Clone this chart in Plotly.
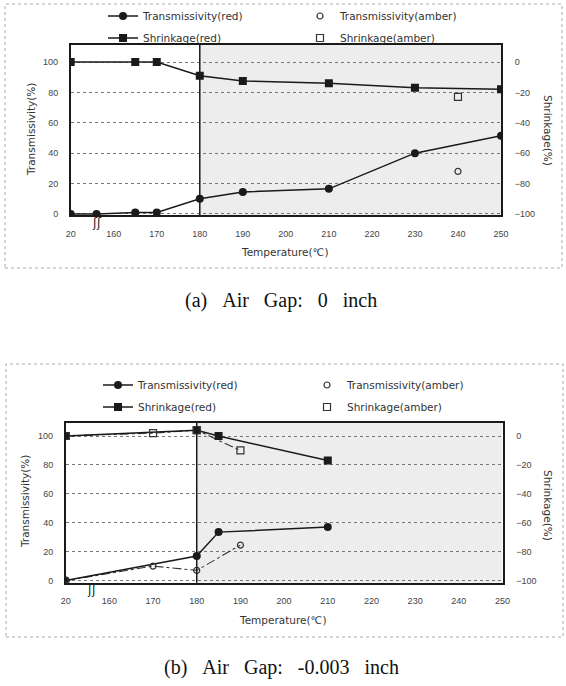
import plotly.graph_objects as go

# ---------------- data ----------------
ROOM_TEMP = 20            # plotted at the axis break
BREAK_AXIS_POS = 150
AXIS_MAX = 250
SHADE_START = 180
TICK_TEMPS = [20, 160, 170, 180, 190, 200, 210, 220, 230, 240, 250]
TRANS_TICKS = [0, 20, 40, 60, 80, 100]
SHRINK_TICKS = [-100, -80, -60, -40, -20, 0]

# (a) Air gap 0 inch
A_T_RED_TEMP = [20, 156, 165, 170, 180, 190, 210, 230, 250]
A_T_RED = [0, 0, 1, 1, 10, 14.5, 16.5, 40, 51.5]
A_S_RED_TEMP = [20, 165, 170, 180, 190, 210, 230, 250]
A_S_RED = [0, 0, 0, -9, -12.5, -14, -17, -18]
A_AMBER_TEMP = [240]
A_T_AMBER = [28]
A_S_AMBER = [-23]

# (b) Air gap -0.003 inch
B_RED_TEMP = [20, 180, 185, 210]
B_T_RED = [0, 17, 33.5, 37]
B_S_RED = [0, 4, 0, -17]
B_AMBER_TEMP = [20, 170, 180, 190]
B_T_AMBER = [0, 10, 7, 24.5]
B_S_AMBER = [0, 2, 4, -10]

NAMES = ["Transmissivity(red)", "Transmissivity(amber)", "Shrinkage(red)", "Shrinkage(amber)"]
SP = "\u2002\u2005"
CAPTIONS = ["(a)" + SP + "Air" + SP + "Gap:" + SP + "0" + SP + "inch",
            "(b)" + SP + "Air" + SP + "Gap:" + SP + "-0.003" + SP + "inch"]


def pos(temps):
    return [BREAK_AXIS_POS if t == ROOM_TEMP else t for t in temps]


W, H = 566, 686
SANS = "DejaVu Sans"
TXT = "#333333"
INK = "#1a1a1a"

fig = go.Figure()


def red_line(x, y, sym, name, xa, ya, legend, show=True):
    fig.add_trace(go.Scatter(
        x=pos(x), y=y, mode="lines+markers", name=name, xaxis=xa, yaxis=ya,
        legend=legend, showlegend=show,
        line=dict(color=INK, width=1.5),
        marker=dict(symbol=sym, size=8, color=INK)))


def amber_pts(x, y, sym, name, xa, ya, legend, size):
    fig.add_trace(go.Scatter(
        x=pos(x), y=y, mode="markers", name=name, xaxis=xa, yaxis=ya,
        legend=legend,
        marker=dict(symbol=sym, size=size, color="#333",
                    line=dict(color="#333", width=1.2))))


def amber_line(x, y, xa, ya):
    fig.add_trace(go.Scatter(
        x=pos(x), y=y, mode="lines", xaxis=xa, yaxis=ya, showlegend=False,
        line=dict(color="#333", width=1.1, dash="dashdot"), hoverinfo="skip"))


# panel (a)
red_line(A_T_RED_TEMP, A_T_RED, "circle", NAMES[0], "x", "y", "legend")
amber_pts(A_AMBER_TEMP, A_T_AMBER, "circle-open", NAMES[1], "x", "y", "legend", 6)
red_line(A_S_RED_TEMP, A_S_RED, "square", NAMES[2], "x", "y2", "legend2")
amber_pts(A_AMBER_TEMP, A_S_AMBER, "square-open", NAMES[3], "x", "y2", "legend2", 7)

# panel (b)
amber_line(B_AMBER_TEMP, B_T_AMBER, "x2", "y3")
amber_line(B_AMBER_TEMP, B_S_AMBER, "x2", "y4")
red_line(B_RED_TEMP, B_T_RED, "circle", NAMES[0], "x2", "y3", "legend3")
amber_pts(B_AMBER_TEMP, B_T_AMBER, "circle-open", NAMES[1], "x2", "y3", "legend3", 6)
red_line(B_RED_TEMP, B_S_RED, "square", NAMES[2], "x2", "y4", "legend4")
amber_pts(B_AMBER_TEMP, B_S_AMBER, "square-open", NAMES[3], "x2", "y4", "legend4", 7)

# ---------------- axes ----------------
tickfont = dict(family="Liberation Sans", size=9, color="#444")
common_x = dict(range=[BREAK_AXIS_POS, AXIS_MAX], tickvals=pos(TICK_TEMPS),
                ticktext=[str(t) for t in TICK_TEMPS], tickfont=tickfont,
                ticks="outside", ticklen=9, tickcolor="rgba(0,0,0,0)",
                showgrid=False, zeroline=False, showline=True, mirror=True,
                linecolor=INK, linewidth=1.5, automargin=False)
left_y = dict(tickvals=TRANS_TICKS, tickfont=tickfont, ticks="outside", ticklen=9,
              tickcolor="rgba(0,0,0,0)", showgrid=True, gridcolor="#777",
              griddash="dot", gridwidth=1, zeroline=False, showline=True,
              mirror=True, linecolor=INK, linewidth=1.5, automargin=False)
right_y = dict(tickvals=SHRINK_TICKS, tickfont=tickfont, ticks="outside", ticklen=11,
               tickcolor="rgba(0,0,0,0)", showgrid=False, zeroline=False,
               side="right", showline=False, automargin=False)

A_LEFT = [-0.7, 111.2]
B_LEFT = [-1.5, 109.2]
A_DOM_Y = [1 - 215 / H, 1 - 45 / H]
B_DOM_Y = [1 - 582.7 / H, 1 - 422.7 / H]

fig.update_layout(
    xaxis=dict(common_x, domain=[70.7 / W, 501 / W], anchor="y"),
    yaxis=dict(left_y, domain=A_DOM_Y, range=A_LEFT, anchor="x"),
    yaxis2=dict(right_y, overlaying="y", range=[A_LEFT[0] - 100, A_LEFT[1] - 100], anchor="x"),
    xaxis2=dict(common_x, domain=[65.7 / W, 502.5 / W], anchor="y3"),
    yaxis3=dict(left_y, domain=B_DOM_Y, range=B_LEFT, anchor="x2"),
    yaxis4=dict(right_y, overlaying="y3", range=[B_LEFT[0] - 100, B_LEFT[1] - 100], anchor="x2"),
)

# shaded region + boundary line
for xa, ya in (("x", "y"), ("x2", "y3")):
    fig.add_shape(type="rect", xref=xa, yref=f"{ya} domain", x0=SHADE_START, x1=AXIS_MAX,
                  y0=0, y1=1, fillcolor="rgba(0,0,0,0.07)", line_width=0, layer="below")
    fig.add_shape(type="line", xref=xa, yref=f"{ya} domain", x0=SHADE_START, x1=SHADE_START,
                  y0=0, y1=1, line=dict(color=INK, width=1.5))

# outer dotted frames
for (x0, y0, x1, y1) in ((5, 4, 562, 268), (6, 364, 563, 637)):
    fig.add_shape(type="rect", xref="paper", yref="paper", x0=x0 / W, x1=x1 / W,
                  y0=1 - y1 / H, y1=1 - y0 / H, line=dict(color="#aaa", width=1, dash="dot"))

# ---------------- legends ----------------
leg_font = dict(family=SANS, size=10.5, color=TXT)
def legend_at(xpx, ypx, ew):
    return dict(orientation="h", x=xpx / W, y=1 - ypx / H, xanchor="left", yanchor="middle",
                font=leg_font, bgcolor="rgba(0,0,0,0)", entrywidth=ew,
                entrywidthmode="pixels", itemwidth=30)

fig.update_layout(
    legend=legend_at(103, 16, 152), legend2=legend_at(103, 38, 152),
    legend3=legend_at(98, 385, 164), legend4=legend_at(98, 407, 164),
)

# ---------------- texts ----------------
title_font = dict(family=SANS, size=10.5, color=TXT)
ann = []
panels = [
    dict(xt=285, yt=252, lx=31, ly=130, rx=548, ry=130, cy=300, cap=CAPTIONS[0], brk_x="x", brk_y="y"),
    dict(xt=283, yt=620, lx=25, ly=502, rx=548, ry=505, cy=667, cap=CAPTIONS[1], brk_x="x2", brk_y="y3"),
]
for p in panels:
    ann.append(dict(text="Temperature(\u2103)", x=p["xt"] / W, y=1 - p["yt"] / H, xref="paper",
                    yref="paper", xanchor="center", yanchor="middle", showarrow=False,
                    font=title_font))
    ann.append(dict(text="Transmissivity(%)", x=p["lx"] / W, y=1 - p["ly"] / H, xref="paper",
                    yref="paper", xanchor="center", yanchor="middle", showarrow=False,
                    textangle=-90, font=title_font))
    ann.append(dict(text="Shrinkage(%)", x=p["rx"] / W, y=1 - p["ry"] / H, xref="paper",
                    yref="paper", xanchor="center", yanchor="middle", showarrow=False,
                    textangle=90, font=title_font))
    ann.append(dict(text=p["cap"], x=281 / W, y=1 - p["cy"] / H, xref="paper", yref="paper",
                    xanchor="center", yanchor="middle", showarrow=False,
                    font=dict(family="Liberation Serif", size=20, color="#111")))
    ann.append(dict(text="\u0283\u0283", x=156, y=0, xref=p["brk_x"], yref=p["brk_y"],
                    yanchor="top", showarrow=False, font=dict(family=SANS, size=12, color="#222")))

fig.update_layout(annotations=ann, width=W, height=H,
                  margin=dict(l=0, r=0, t=0, b=0, autoexpand=False),
                  paper_bgcolor="white", plot_bgcolor="white", showlegend=True)

fig.write_html("out.html", config={"displayModeBar": False},
               post_script="document.body.style.margin='0';")
